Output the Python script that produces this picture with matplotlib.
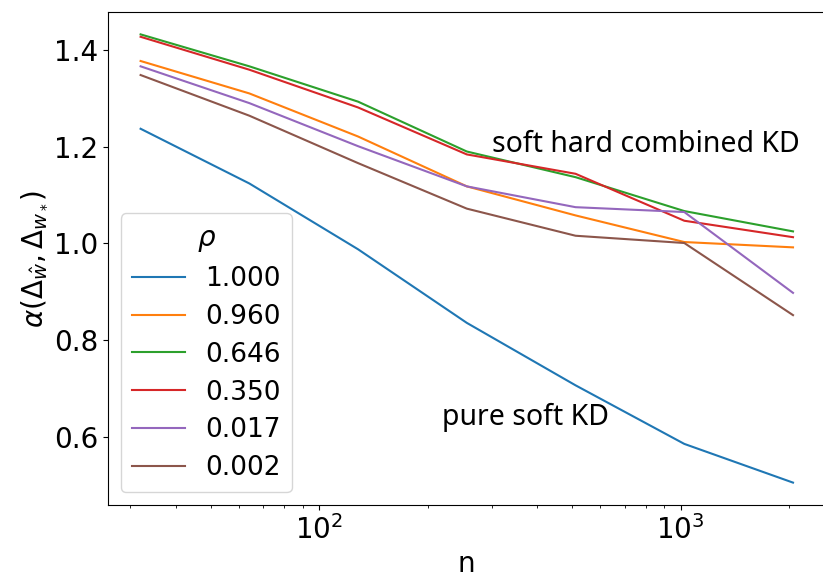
import matplotlib
matplotlib.use("Agg")
import matplotlib.pyplot as plt

plt.rcParams["font.family"] = "DejaVu Sans"
plt.rcParams["mathtext.fontset"] = "dejavusans"

n_vals = [32, 64, 128, 256, 512, 1024, 2048]
rho_labels = ["1.000", "0.960", "0.646", "0.350", "0.017", "0.002"]

alpha_1000 = [1.237, 1.124, 0.988, 0.836, 0.707, 0.586, 0.506]
alpha_0960 = [1.377, 1.310, 1.221, 1.118, 1.058, 1.003, 0.992]
alpha_0646 = [1.432, 1.366, 1.293, 1.190, 1.137, 1.067, 1.025]
alpha_0350 = [1.427, 1.359, 1.281, 1.184, 1.144, 1.047, 1.013]
alpha_0017 = [1.366, 1.290, 1.201, 1.118, 1.075, 1.065, 0.898]
alpha_0002 = [1.348, 1.264, 1.166, 1.072, 1.016, 1.001, 0.852]

all_series = [alpha_1000, alpha_0960, alpha_0646, alpha_0350, alpha_0017, alpha_0002]

fig = plt.figure(figsize=(8.23, 5.75), dpi=100)
ax = fig.add_axes([0.1312, 0.1217, 0.872, 0.8575])

for vals, lab in zip(all_series, rho_labels):
    ax.plot(n_vals, vals, label=lab, linewidth=1.5)

ax.set_xscale("log")
ax.tick_params(axis="both", labelsize=20)
ax.set_xlabel("n", fontsize=20)
ax.set_ylabel(r"$\alpha(\Delta_{\hat{w}},\Delta_{w_*})$", fontsize=20)

# annotations were drawn in a different (wider, lighter) font
ax.text(301, 1.189, "soft hard combined KD", fontsize=20.5,
        family=["Noto Sans", "DejaVu Sans"], ha="left", va="baseline")
ax.text(219, 0.626, "pure soft KD", fontsize=20.5,
        family=["Noto Sans", "DejaVu Sans"], ha="left", va="baseline")

leg = ax.legend(title=r"$\rho$", fontsize=19, title_fontsize=20,
                loc="lower left", labelspacing=0.45)

fig.savefig("out.png", dpi=100)
